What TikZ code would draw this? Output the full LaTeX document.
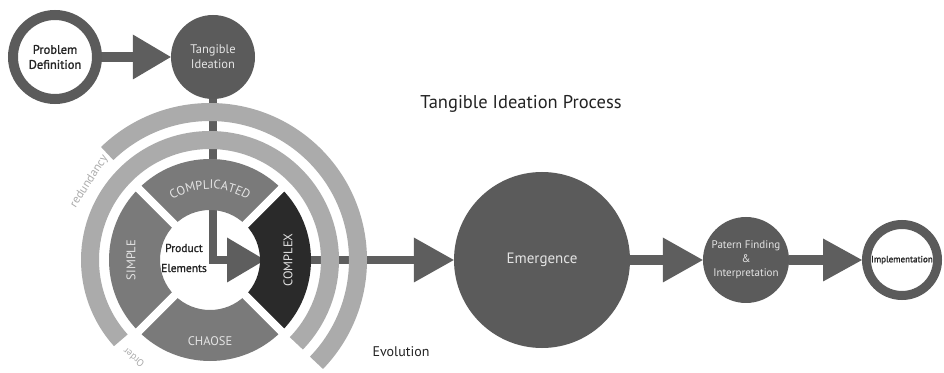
\documentclass[tikz,border=0pt]{standalone}
\usepackage{fontspec}
\setmainfont{PT Sans}
\newfontfamily\semib[FakeBold=1.3]{PT Sans}
\usetikzlibrary{arrows.meta,decorations.text}
\definecolor{dk}{HTML}{5B5B5B}
\definecolor{arr}{HTML}{5E5E5E}
\definecolor{seg}{HTML}{7A7A7A}
\definecolor{segdk}{HTML}{2A2A2A}
\definecolor{lite}{HTML}{ABABAB}
\definecolor{txl}{HTML}{E4E4E4}
\definecolor{txd}{HTML}{232323}
\begin{document}
\begin{tikzpicture}[x=1pt,y=1pt,
  fullc/.style={circle, fill=dk, text=txl, inner sep=0pt, align=center},
  ringc/.style={circle, draw=dk, fill=white, text=txd, inner sep=0pt, align=center},
  conn/.style={draw=arr, line width=#1},
  segtxt/.style={text=txl, inner sep=0pt, font=\fontsize{12.5}{14}\selectfont},
  arctxt/.style={text=lite, inner sep=0pt},
  bigtip/.style={-{Triangle[length=#1,width=45pt,line width=0pt]}}
]
\useasboundingbox (0,0) rectangle (944,372);

% main nodes
\node[ringc, line width=10pt, minimum size=84pt, font=\semib\fontsize{12.5}{15}\selectfont] (pd) at (55,315) {Problem\\Definition};
\node[fullc, minimum size=84pt, font=\fontsize{12.5}{15}\selectfont] (ti) at (213,315) {Tangible\\Ideation};
\node[fullc, minimum size=176pt, font=\fontsize{15}{18}\selectfont] (em) at (542,112) {Emergence};
\node[fullc, minimum size=86pt, font=\fontsize{11}{14}\selectfont] (pf) at (746,112) {Patern Finding\\\&\\Interpretation};
\node[ringc, line width=9pt, minimum size=71pt, font=\semib\fontsize{9}{10}\selectfont] (im) at (902,112) {Implementation};

\coordinate (rc) at (210,112);
\coordinate (cxin) at (265,112);

% connectors
\draw[conn=10pt, bigtip=38pt] (pd) -- (ti);
\draw[conn=8.5pt, bigtip=38pt] (ti) |- (cxin);
\draw[conn=8pt, bigtip=40pt] (cxin) -- (em);
\draw[conn=10pt, bigtip=40pt] (em) -- (pf);
\draw[conn=10pt, -{Triangle[length=39pt,width=43pt,line width=0pt]}] (pf) -- (im);

% ring segments
\foreach \a/\c in {45/seg, 135/seg, 225/seg, -45/segdk}
  \fill[\c] ([shift={(\a:101)}]rc) arc[start angle=\a, end angle=\a+90, radius=101]
    -- ([shift={(\a+90:50)}]rc) arc[start angle=\a+90, end angle=\a, radius=50] -- cycle;
\foreach \a in {45,135,225,315}
  \draw[white, line width=8pt] ([shift={(\a:46)}]rc) -- ([shift={(\a:106)}]rc);

% outer arcs
\draw[lite, line width=18pt] ([shift={(-44:120)}]rc) arc[start angle=-44, end angle=222, radius=120];
\draw[lite, line width=18pt] ([shift={(-44:148)}]rc) arc[start angle=-44, end angle=134, radius=148];

% segment labels
\path[decorate, decoration={text along path, text align=center,
  text={|\fontsize{12.5}{14}\selectfont\color{txl}|COMPLICATED}}]
  ([shift={(145:71)}]rc) arc[start angle=145, end angle=35, radius=71];
\node[segtxt, rotate=90] (simple) at ([shift={(180:79)}]rc) {SIMPLE};
\node[segtxt, rotate=90] (complex) at ([shift={(0:78)}]rc) {COMPLEX};
\node[segtxt] (chaose) at ([shift={(270:81)}]rc) {CHAOSE};
\node[text=txd, align=center, inner sep=0pt, font=\semib\fontsize{11.5}{20}\selectfont] (prod) at (184,114) {Product\\Elements};

% arc labels
\node[arctxt, rotate=57, font=\fontsize{12}{14}\selectfont] (red) at ([shift={(147:144)}]rc) {redundancy};
\node[arctxt, rotate=141, font=\fontsize{10}{12}\selectfont] (ord) at ([shift={(232:124)}]rc) {Order};

% titles
\node[text=txd, inner sep=0pt, font=\fontsize{18.5}{22}\selectfont] (title) at (521,268) {Tangible Ideation Process};
\node[text=txd, inner sep=0pt, font=\fontsize{14}{17}\selectfont] (evo) at (401,20) {Evolution};
\end{tikzpicture}
\end{document}
